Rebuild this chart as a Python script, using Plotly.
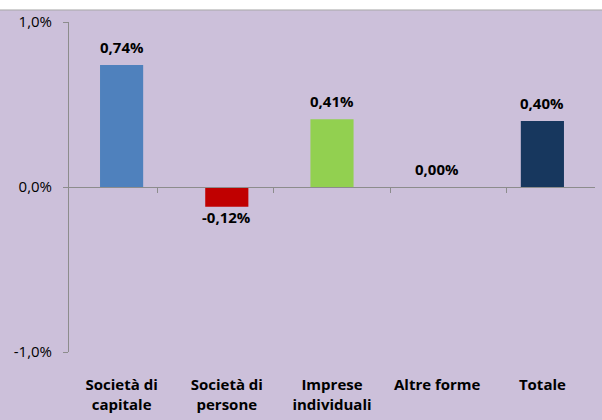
import plotly.graph_objects as go

categories = ["Società di<br>capitale", "Società di<br>persone", "Imprese<br>individuali", "Altre forme", "Totale"]
values = [0.74, -0.12, 0.41, 0.00, 0.40]
bar_colors = ["#4F81BD", "#C00000", "#92D050", "#8064A2", "#17375E"]
y_ticks = [-1.0, 0.0, 1.0]
y_tick_labels = ["-1,0%", "0,0%", "1,0%"]

BG = "#CCC0DA"
GRID = "#8C8C8C"
FONT = "Open Sans"


def fmt(v):
    return f"{v:.2f}%".replace(".", ",")


fig = go.Figure()
fig.add_trace(go.Bar(
    x=categories, y=values,
    marker=dict(color=bar_colors, line=dict(width=0)),
    showlegend=False, hoverinfo="skip",
))
# helper trace for the category axis drawn at zero
fig.add_trace(go.Scatter(
    x=categories, y=[0] * len(categories), xaxis="x2", mode="markers",
    marker=dict(opacity=0), showlegend=False, hoverinfo="skip",
))

annotations = []
for c, v in zip(categories, values):
    pos = v >= 0
    annotations.append(dict(
        x=c, y=v, xref="x", yref="y", text=f"<b>{fmt(v)}</b>", showarrow=False,
        yanchor="bottom" if pos else "top", yshift=6 if pos else 2,
        font=dict(family=FONT, size=15, color="black"),
    ))

fig.update_layout(
    width=602, height=420,
    margin=dict(l=69, r=7, t=22, b=68, autoexpand=False),
    paper_bgcolor="white", plot_bgcolor=BG,
    bargap=0.59,
    font=dict(family=FONT, size=15, color="black"),
    xaxis=dict(
        type="category", showline=False, showgrid=False, zeroline=False,
        automargin=False,
        ticks="outside", ticklen=19, tickcolor="rgba(0,0,0,0)",
        tickfont=dict(family=FONT, size=15, color="black", weight="bold"),
        categoryorder="array", categoryarray=categories,
    ),
    xaxis2=dict(
        type="category", overlaying="x", anchor="free", position=0.5,
        automargin=False,
        showline=True, linecolor=GRID, linewidth=1,
        ticks="outside", ticklen=5, tickcolor=GRID, tickson="boundaries",
        showticklabels=False, showgrid=False, zeroline=False,
        categoryorder="array", categoryarray=categories,
    ),
    yaxis=dict(
        range=[-1, 1], tickvals=y_ticks, ticktext=y_tick_labels,
        automargin=False,
        showgrid=True, gridcolor=GRID, gridwidth=1, zeroline=False,
        showline=True, linecolor=GRID, linewidth=1,
        ticks="outside", ticklen=5, tickcolor=GRID,
        ticklabelstandoff=8,
        tickfont=dict(family=FONT, size=15, color="black"),
    ),
    annotations=annotations,
    shapes=[
        dict(type="rect", xref="paper", yref="paper", x0=-0.2, x1=1.2,
             y0=-0.3, y1=1.0364, fillcolor=BG, line=dict(color="#A6A6A6", width=1),
             layer="below"),
    ],
)

fig.write_html(
    "out.html",
    config={"displayModeBar": False},
    post_script="document.body.style.margin='0';document.body.style.overflow='hidden';",
)
